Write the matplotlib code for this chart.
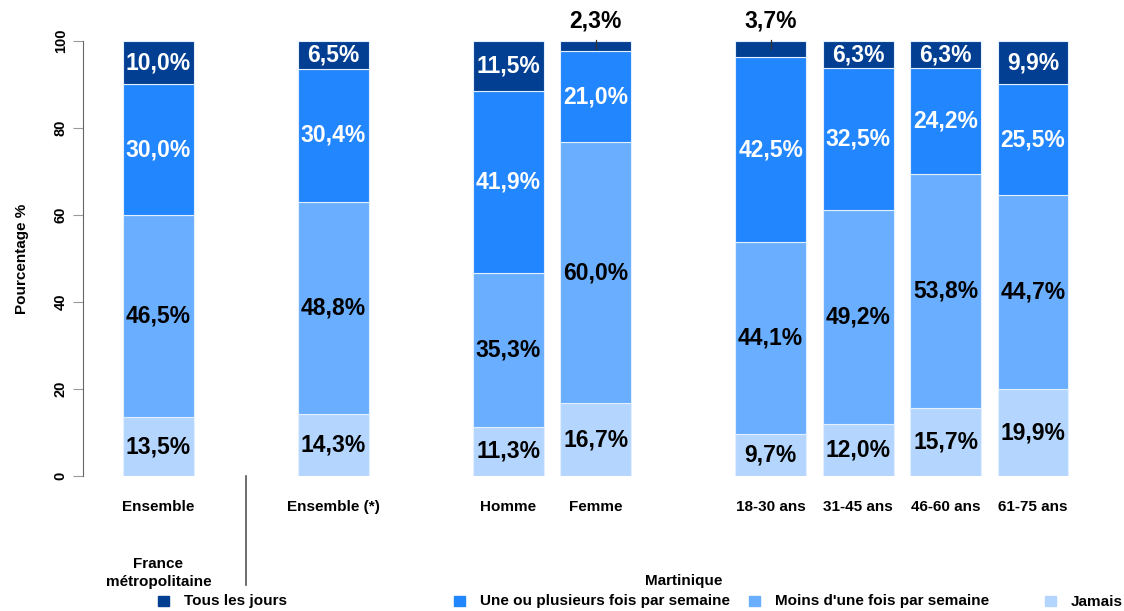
import numpy as np
import matplotlib.pyplot as plt
from matplotlib.patches import Rectangle
import matplotlib.transforms as mtransforms

plt.rcParams['font.family'] = ['Liberation Sans', 'DejaVu Sans']
plt.rcParams['font.weight'] = 'bold'

# Donnees (en %)
categories = ["Ensemble", "Ensemble (*)", "Homme", "Femme",
              "18-30 ans", "31-45 ans", "46-60 ans", "61-75 ans"]
jamais = [13.5, 14.3, 11.3, 16.7, 9.7, 12.0, 15.7, 19.9]
moins_semaine = [46.5, 48.8, 35.3, 60.0, 44.1, 49.2, 53.8, 44.7]
plusieurs_semaine = [30.0, 30.4, 41.9, 21.0, 42.5, 32.5, 24.2, 25.5]
tous_jours = [10.0, 6.5, 11.5, 2.3, 3.7, 6.3, 6.3, 9.9]

series_noms = ["Jamais", "Moins d'une fois par semaine",
               "Une ou plusieurs fois par semaine", "Tous les jours"]
couleurs = ["#B4D6FE", "#6AAEFF", "#2286FE", "#023F92"]
couleurs_txt = ["black", "black", "white", "white"]

# position des barres (groupes separes par un espace)
xpos = np.array([0, 2, 4, 5, 7, 8, 9, 10])

W, H = 1124, 611
fig = plt.figure(figsize=(W / 100, H / 100), dpi=100)
ax = fig.add_axes([83 / W, 1 - 476 / H, (1100 - 83) / W, 435 / H])

series = [jamais, moins_semaine, plusieurs_semaine, tous_jours]
bottom = np.zeros(len(categories))
for vals, col, tcol in zip(series, couleurs, couleurs_txt):
    vals = np.array(vals)
    ax.bar(xpos, vals, width=0.81, bottom=bottom, color=col,
           edgecolor="#E3EEFF", linewidth=0.8)
    for x, b, v in zip(xpos, bottom, vals):
        lab = f"{v:.1f}%".replace(".", ",")
        if v < 5:
            # petite valeur : etiquette au dessus de la barre
            ax.text(x, 104.6, lab, ha="center", va="center", fontsize=16.5,
                    fontweight="bold", color="black", clip_on=False)
            ax.plot([x, x], [b + v + 0.3, b + v - 1.8], color="#333333",
                    lw=0.9, clip_on=False)
        else:
            ax.text(x, b + v / 2, lab, ha="center", va="center",
                    fontsize=16.5, fontweight="bold", color=tcol)
    bottom += vals

ax.set_xlim(-0.863, 10.766)
ax.set_ylim(0, 100)
ax.set_yticks(np.arange(0, 101, 20))
ax.tick_params(axis="y", length=7, width=0.8, color="#999999", pad=4,
               labelsize=10.5)
for lbl in ax.get_yticklabels():
    lbl.set_rotation(90)
    lbl.set_va("center")
    lbl.set_fontweight("bold")
ax.set_xticks(xpos, categories)
ax.tick_params(axis="x", length=0, pad=17.5, labelsize=11)
for lbl in ax.get_xticklabels():
    lbl.set_fontweight("bold")
ax.set_ylabel("Pourcentage %", fontsize=11, fontweight="bold", labelpad=18)

for s in ["top", "right", "bottom"]:
    ax.spines[s].set_visible(False)
ax.spines["left"].set_color("#666666")
ax.spines["left"].set_linewidth(0.8)

# separateur et noms de groupes sous l'axe
trans = mtransforms.blended_transform_factory(ax.transData, ax.transAxes)
ax.plot([1, 1], [0, -109 / 435], color="#555555", lw=1.2,
        transform=trans, clip_on=False)
ax.text(0, -97 / 435, "France\nmétropolitaine", ha="center", va="center",
        fontsize=11, fontweight="bold", transform=trans, linespacing=1.3)
ax.text(6, -105 / 435, "Martinique", ha="center", va="center",
        fontsize=11, fontweight="bold", transform=trans)

# legende en bas (remontee un peu pour ne pas etre coupee)
leg_x = [158, 454, 749, 1045]
leg_noms = ["Tous les jours", "Une ou plusieurs fois par semaine",
            "Moins d'une fois par semaine", "Jamais"]
leg_cols = [couleurs[3], couleurs[2], couleurs[1], couleurs[0]]
for lx, nom, col in zip(leg_x, leg_noms, leg_cols):
    fig.patches.append(Rectangle((lx / W, 1 - 606 / H), 11 / W, 10 / H,
                                 transform=fig.transFigure, color=col))
    fig.text((lx + 26) / W, 1 - 601.5 / H, nom, ha="left", va="center",
             fontsize=11, fontweight="bold")

plt.savefig("out.png", dpi=100)
